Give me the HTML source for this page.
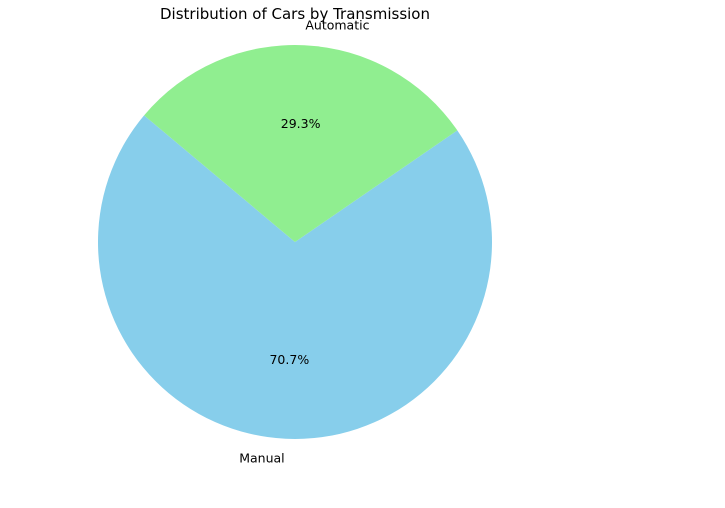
<!DOCTYPE html>
<html><head><meta charset="utf-8">
<style>
html,body{margin:0;padding:0;background:#fff;}
svg{display:block;font-family:"DejaVu Sans","Liberation Sans",sans-serif;}
</style></head>
<body>
<svg id="chart" width="725" height="508" viewBox="0 0 725 508">
<text x="295" y="19" text-anchor="middle" font-size="15" fill="#000">Distribution of Cars by Transmission</text>
</svg>
<script>
const categories = ["Manual", "Automatic"];
const values = [70.7, 29.3];
const colors = ["#87CEEB", "#90EE90"];
const startAngle = 140;
const cx = 295, cy = 242, r = 197;
const svg = document.getElementById('chart');
const NS = 'http://www.w3.org/2000/svg';
const total = values.reduce((a,b)=>a+b,0);
function pt(deg, rad){const a=deg*Math.PI/180;return [cx+rad*Math.cos(a), cy-rad*Math.sin(a)];}
let ang = startAngle;
values.forEach((v,i)=>{
  const sweep = v/total*360;
  const a0 = ang, a1 = ang+sweep;
  const p0 = pt(a0,r), p1 = pt(a1,r);
  const large = sweep>180?1:0;
  const path = document.createElementNS(NS,'path');
  path.setAttribute('d',`M${cx},${cy} L${p0[0]},${p0[1]} A${r},${r} 0 ${large} 0 ${p1[0]},${p1[1]} Z`);
  path.setAttribute('fill',colors[i]);
  
  
  svg.appendChild(path);
  const mid = a0+sweep/2;
  const lp = pt(mid, r*1.1);
  const lab = document.createElementNS(NS,'text');
  lab.setAttribute('x',lp[0]); lab.setAttribute('y',lp[1]+4);
  lab.setAttribute('font-size','12.5');
  lab.setAttribute('text-anchor', lp[0]<cx ? 'end' : 'start');
  lab.textContent = categories[i];
  
  
  svg.appendChild(lab);
  const pp = pt(mid, r*0.6);
  const pct = document.createElementNS(NS,'text');
  pct.setAttribute('x',pp[0]); pct.setAttribute('y',pp[1]+4);
  pct.setAttribute('font-size','12.5');
  pct.setAttribute('text-anchor','middle');
  pct.textContent = (v/total*100).toFixed(1)+'%';
  
  
  svg.appendChild(pct);
  ang = a1;
});
</script>
</body></html>
